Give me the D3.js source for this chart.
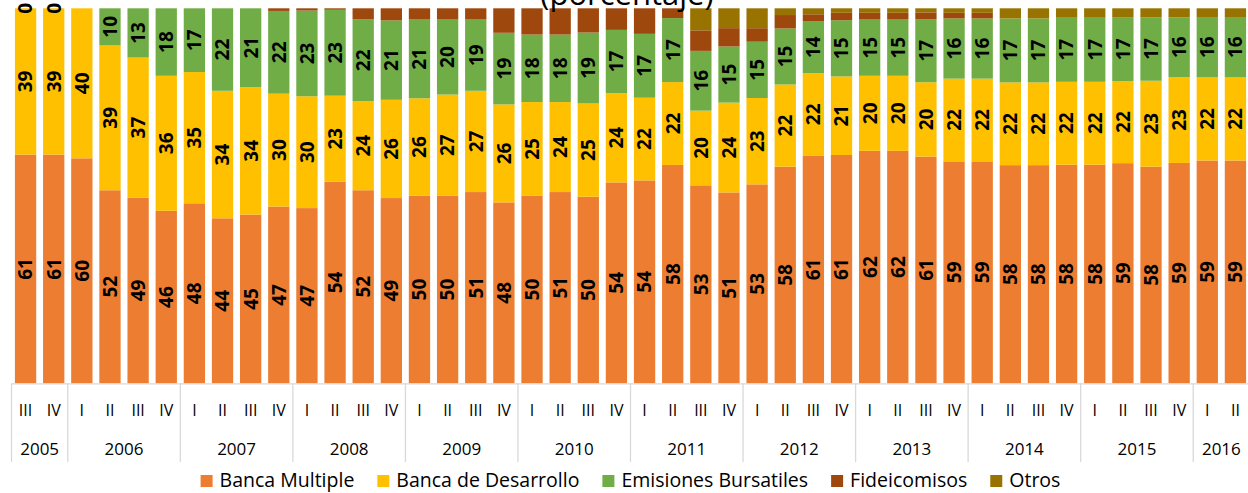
<!DOCTYPE html>
<html>
<head>
<meta charset="utf-8">
<script src="https://cdn.jsdelivr.net/npm/d3@7"></script>
<style>
  body { margin: 0; background: #fff; }
  svg text { font-family: "Open Sans", sans-serif; fill: #000; }
</style>
</head>
<body>
<div id="canvas"></div>
<script>
// quarters along the axis, years grouped under them
var quarters = ['III','IV',
  'I','II','III','IV', 'I','II','III','IV', 'I','II','III','IV', 'I','II','III','IV', 'I','II','III','IV',
  'I','II','III','IV', 'I','II','III','IV', 'I','II','III','IV', 'I','II','III','IV', 'I','II','III','IV',
  'I','II'];
var years = ['2005','2006','2007','2008','2009','2010','2011','2012','2013','2014','2015','2016'];
var quartersPerYear = [2,4,4,4,4,4,4,4,4,4,4,2];

var seriesNames = ['Banca Multiple','Banca de Desarrollo','Emisiones Bursatiles','Fideicomisos','Otros'];
var colors = ['#ED7D31','#FFC000','#70AD47','#9E480E','#997300'];

var bancaMultiple = [61,61,60,52,49,46,48,44,45,47, 47,54,52,49,50,50,51,48,50,51,
  50,54,54,58,53,51,53,58,61,61, 62,62,61,59,59,58,58,58,58,59, 58,59,59,59];
var bancaDesarrollo = [39,39,40,39,37,36,35,34,34,30, 30,23,24,26,26,27,27,26,25,24,
  25,24,22,22,20,24,23,22,22,21, 20,20,20,22,22,22,22,22,22,22, 23,23,22,22];
var emisiones = [0,0,null,10,13,18,17,22,21,22, 23,23,22,21,21,20,19,19,18,18,
  19,17,17,17,16,15,15,15,14,15, 15,15,17,16,16,17,17,17,17,17, 17,16,16,16];
var fideicomisos = [0,0,0,0,0,0,0,0,0,0.7, 0.6,0.4,3,3.2,3,3,3,6.5,7,7,
  6.5,5.8,6.8,2.6,5.5,4.9,3.6,3.6,1.8,2, 1.8,1.8,1.8,1.5,1.5,0,0,0,0,0, 0,0,0,0];
var otros = [0,0,0,0,0,0,0,0,0,0, 0,0,0,0,0,0,0,0,0,0,
  0,0,0,0,5.9,5.3,5.3,1.8,1.6,1.2, 1.2,1.2,1.1,1.2,1.2,2.7,2.7,2.5,2.5,2.5, 2.4,2.4,2.3,2.3];

var seriesValues = [bancaMultiple, bancaDesarrollo, emisiones, fideicomisos, otros];

var W = 1248, H = 493;
var m = {t:8.3, b:383.3, l:11.5, r:1249.5};

var svg = d3.select('#canvas').append('svg')
  .attr('width', W).attr('height', H);

var rows = quarters.map(function(q, i){
  var r = {i: i};
  seriesNames.forEach(function(s, k){ r[s] = seriesValues[k][i] || 0; });
  return r;
});

var stack = d3.stack().keys(seriesNames).offset(d3.stackOffsetExpand);
var layers = stack(rows);

var x = d3.scaleBand()
  .domain(d3.range(quarters.length))
  .range([m.l, m.r])
  .paddingInner(0.243)
  .paddingOuter(0.1215);
var y = d3.scaleLinear().domain([0,1]).range([m.b, m.t]);

// bars
var layerG = svg.selectAll('.layer').data(layers).enter()
  .append('g').attr('class','layer')
  .attr('fill', function(d, k){ return colors[k]; });

layerG.selectAll('rect').data(function(d){ return d; }).enter()
  .append('rect')
  .attr('x', function(d){ return x(d.data.i); })
  .attr('width', x.bandwidth())
  .attr('y', function(d){ return y(d[1]); })
  .attr('height', function(d){ return y(d[0]) - y(d[1]); });

// data labels on the first three series
layers.slice(0,3).forEach(function(layer, k){
  var pts = layer.filter(function(d){ return seriesValues[k][d.data.i] !== null; });
  svg.append('g').selectAll('text').data(pts).enter()
    .append('text')
    .attr('transform', function(d){
      var cx = x(d.data.i) + x.bandwidth()/2;
      var cy = (y(d[0]) + y(d[1]))/2;
      return 'translate(' + cx + ',' + cy + ') rotate(-90)';
    })
    .attr('text-anchor','middle')
    .attr('dy','0.36em')
    .style('font-size','19px')
    .style('font-weight','bold')
    .text(function(d){ return seriesValues[k][d.data.i]; });
});

// x axis: quarters
var axisX = d3.axisBottom(x)
  .tickSize(0)
  .tickSizeOuter(0)
  .tickPadding(0)
  .tickFormat(function(i){ return quarters[i]; });
var ax = svg.append('g').attr('class','axis')
  .attr('transform','translate(0,' + m.b + ')')
  .call(axisX);
ax.select('.domain').attr('stroke','#d9d9d9').attr('stroke-width',1.3);
ax.selectAll('text')
  .attr('y', 32.5).attr('dy', null)
  .style('font-size','16px')
  .style('font-family','"Open Sans", sans-serif')
  .attr('fill','#000');

// year groups
var step = x.step();
var starts = [0];
quartersPerYear.forEach(function(n, k){ starts.push(starts[k] + n); });
var bounds = starts.map(function(s){ return m.l + s * step; });

svg.append('g').selectAll('line').data(bounds).enter()
  .append('line')
  .attr('x1', function(d){ return d; }).attr('x2', function(d){ return d; })
  .attr('y1', m.b).attr('y2', 462)
  .attr('stroke','#d9d9d9').attr('stroke-width',1.3);

svg.append('g').selectAll('text').data(years).enter()
  .append('text')
  .attr('x', function(d, k){ return (bounds[k] + bounds[k+1]) / 2; })
  .attr('y', 455)
  .attr('text-anchor','middle')
  .style('font-size','17px')
  .text(function(d){ return d; });

// title (cut off at top, as in the source)
svg.append('text')
  .attr('x', 627).attr('y', 5)
  .attr('text-anchor','middle')
  .style('font-size','31px')
  .text('(porcentaje)');

// legend
var legend = svg.append('g');
var items = legend.selectAll('g').data(seriesNames).enter().append('g');
items.append('rect').attr('width',12).attr('height',12).attr('y',-12)
  .attr('fill', function(d, k){ return colors[k]; });
items.append('text').attr('x',19).attr('y',0)
  .style('font-size','19.5px')
  .text(function(d){ return d; });
var pos = 0;
items.each(function(){
  var g = d3.select(this);
  var w = 19 + g.select('text').node().getComputedTextLength();
  g.attr('transform','translate(' + pos + ',0)');
  pos += w + 23;
});
pos -= 23;
legend.attr('transform','translate(' + (630.5 - pos/2) + ',487)');
</script>
</body>
</html>
